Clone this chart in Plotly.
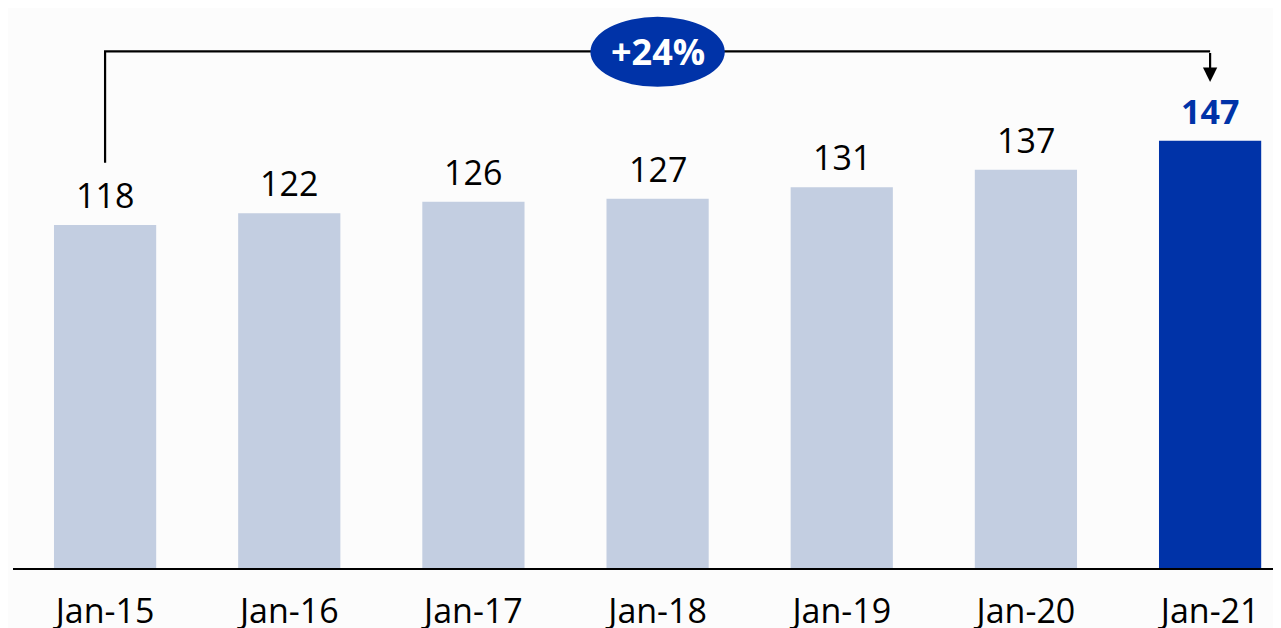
import plotly.graph_objects as go

categories = ["Jan-15", "Jan-16", "Jan-17", "Jan-18", "Jan-19", "Jan-20", "Jan-21"]
values = [118, 122, 126, 127, 131, 137, 147]
growth_label = "+24%"

LIGHT = "#C3CEE1"
DARK = "#0033A8"
BG = "#FCFCFC"
FONT = "Open Sans"

colors = [LIGHT] * (len(values) - 1) + [DARK]
xs = list(range(len(categories)))

fig = go.Figure()
fig.add_trace(go.Bar(x=xs, y=values, marker=dict(color=colors, line=dict(width=0)),
                     width=0.555, hoverinfo="skip"))

# value labels
for i, v in enumerate(values):
    last = i == len(values) - 1
    fig.add_annotation(x=i, y=v, text=f"<b>{v}</b>" if last else str(v), showarrow=False,
                       yanchor="middle", yshift=30,
                       font=dict(family=FONT, size=34, color=DARK if last else "#000000"))

# bracket connector
y_start = 139.4
y_top = 177.7
y_arrow = 167.2
fig.add_shape(type="path",
              path=f"M 0 {y_start} L 0 {y_top} L {len(values)-1} {y_top}",
              xref="x", yref="y", line=dict(color="#000000", width=2.2))
fig.add_annotation(x=len(values) - 1, y=y_arrow, ax=len(values) - 1, ay=y_top,
                   xref="x", yref="y", axref="x", ayref="y", text="",
                   showarrow=True, arrowhead=2, arrowsize=1.3, arrowwidth=2.2,
                   arrowcolor="#000000")

# growth ellipse
mid = (len(values) - 1) / 2
fig.add_shape(type="circle", xref="x", yref="y",
              x0=mid - 0.365, x1=mid + 0.365, y0=165.5, y1=189.6,
              fillcolor=DARK, line=dict(color=DARK, width=0), layer="above")
fig.add_annotation(x=mid, y=177.6, text=f"<b>{growth_label}</b>", showarrow=False,
                   font=dict(family=FONT, size=36, color="#FFFFFF"))

fig.update_layout(
    width=1273, height=625,
    margin=dict(l=5, r=0, t=5, b=57),
    paper_bgcolor=BG, plot_bgcolor=BG,
    showlegend=False,
    xaxis=dict(range=[-0.5, 6.385], tickmode="array", tickvals=xs, ticktext=categories,
               showgrid=False, zeroline=False, showline=True, linecolor="#000000", linewidth=2,
               ticks="outside", ticklen=12, tickcolor="rgba(0,0,0,0)",
               tickfont=dict(family=FONT, size=34, color="#000000")),
    yaxis=dict(range=[0, 190.9], visible=False, showgrid=False, zeroline=False),
)

fig.write_html("out.html")
